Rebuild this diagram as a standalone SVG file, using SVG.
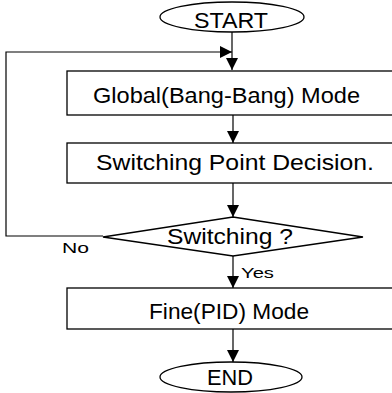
<svg xmlns="http://www.w3.org/2000/svg" width="392" height="393" viewBox="0 0 392 393">
<style>
.s{fill:#fff;stroke:#000;stroke-width:1.3}
.t{font-family:"Liberation Sans",Arial,sans-serif;font-size:22px;fill:#000}
.l{font-family:"Liberation Sans",Arial,sans-serif;font-size:15px;fill:#000}
.c{fill:none;stroke:#000;stroke-width:1.2}
</style>
<defs>
<marker id="a" markerWidth="12" markerHeight="14" refX="12" refY="6" orient="auto" markerUnits="userSpaceOnUse">
<path d="M0,0 L12,6 L0,12 Z" fill="#000"/>
</marker>
</defs>
<rect width="392" height="393" fill="#fff"/>
<g id="connectors">
<path class="c" d="M232,32 V70" marker-end="url(#a)"/>
<path class="c" d="M103,236 H6 V52 H232" marker-end="url(#a)"/>
<path class="c" d="M233,115 V143" marker-end="url(#a)"/>
<path class="c" d="M233,183 V217" marker-end="url(#a)"/>
<path class="c" d="M233,256 V288" marker-end="url(#a)"/>
<path class="c" d="M233,329 V362" marker-end="url(#a)"/>
<text class="l" x="62" y="253" textLength="27" lengthAdjust="spacingAndGlyphs">No</text>
<text class="l" x="241" y="278" textLength="33" lengthAdjust="spacingAndGlyphs">Yes</text>
</g>
<g id="start">
<ellipse class="s" cx="232" cy="17" rx="72" ry="15"/>
<text class="t" x="194" y="28" textLength="74" lengthAdjust="spacingAndGlyphs">START</text>
</g>
<g id="global">
<rect class="s" x="67" y="71" width="330" height="44"/>
<text class="t" x="93" y="103" textLength="267" lengthAdjust="spacingAndGlyphs">Global(Bang-Bang) Mode</text>
</g>
<g id="decision">
<rect class="s" x="67" y="143" width="330" height="40"/>
<text class="t" x="96" y="170" textLength="278" lengthAdjust="spacingAndGlyphs">Switching Point Decision.</text>
</g>
<g id="switching">
<polygon class="s" points="233,217 363,237 233,256 103,237"/>
<text class="t" x="167" y="244" textLength="126" lengthAdjust="spacingAndGlyphs">Switching ?</text>
</g>
<g id="fine">
<rect class="s" x="67" y="288" width="330" height="41"/>
<text class="t" x="149" y="319" textLength="160" lengthAdjust="spacingAndGlyphs">Fine(PID) Mode</text>
</g>
<g id="end">
<ellipse class="s" cx="231" cy="377" rx="71" ry="15"/>
<text class="t" x="207" y="385" textLength="46" lengthAdjust="spacingAndGlyphs">END</text>
</g>
</svg>
